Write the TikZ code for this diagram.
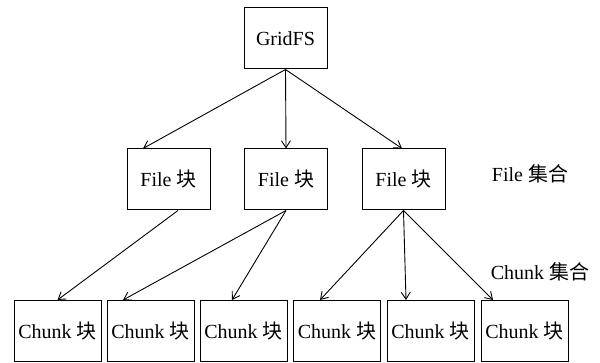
\documentclass[tikz,border=0pt]{standalone}
\usepackage{fontspec}
\setmainfont{Liberation Serif}
\newfontfamily\cjk{Noto Sans CJK SC}
\usetikzlibrary{arrows.meta}
\newcommand\zh[1]{{\cjk #1}}
\begin{document}
\begin{tikzpicture}[x=1pt,y=-1pt,
  box/.style={draw,line width=1pt,inner sep=0pt,font=\fontsize{20}{23}\selectfont},
  filebox/.style={box,minimum width=83pt,minimum height=61pt},
  chunkbox/.style={box,minimum width=87pt,minimum height=61pt},
  link/.style={line width=0.9pt,-{Straight Barb[length=7pt,width=9pt]}},
  lbl/.style={font=\fontsize{20}{23}\selectfont}]
\useasboundingbox (0,0) rectangle (600,363);
% root
\node[filebox] (g) at (285.5,38.5) {GridFS};
% file level
\node[filebox] (f1) at (168.5,179.5) {File \zh{块}};
\node[filebox] (f2) at (286,179.5) {File \zh{块}};
\node[filebox] (f3) at (403.5,179.5) {File \zh{块}};
% chunk level
\node[chunkbox] (c1) at (57.5,331) {Chunk \zh{块}};
\node[chunkbox] (c2) at (150.5,331) {Chunk \zh{块}};
\node[chunkbox] (c3) at (243.5,331) {Chunk \zh{块}};
\node[chunkbox] (c4) at (337,331) {Chunk \zh{块}};
\node[chunkbox] (c5) at (430.5,331) {Chunk \zh{块}};
\node[chunkbox] (c6) at (524.5,331) {Chunk \zh{块}};
% collection labels
\node[lbl] (lf) at (530,174) {File \zh{集合}};
\node[lbl] (lc) at (540,272) {Chunk \zh{集合}};
% GridFS -> files
\draw[link] (g.south) -- ([xshift=-25.5pt]f1.north);
\draw[link] (g.south) -- (f2.north);
\draw[link] (g.south) -- ([xshift=-1.5pt]f3.north);
% files -> chunks
\draw[link] ([xshift=9.5pt]f1.south) -- (c1.north);
\draw[link] (f2.south) -- ([xshift=-27.5pt]c2.north);
\draw[link] (f2.south) -- ([xshift=-11.5pt]c3.north);
\draw[link] (f3.south) -- ([xshift=-17pt]c4.north);
\draw[link] (f3.south) -- ([xshift=-24.5pt]c5.north);
\draw[link] (f3.south) -- ([xshift=-31.5pt]c6.north);
\end{tikzpicture}
\end{document}
